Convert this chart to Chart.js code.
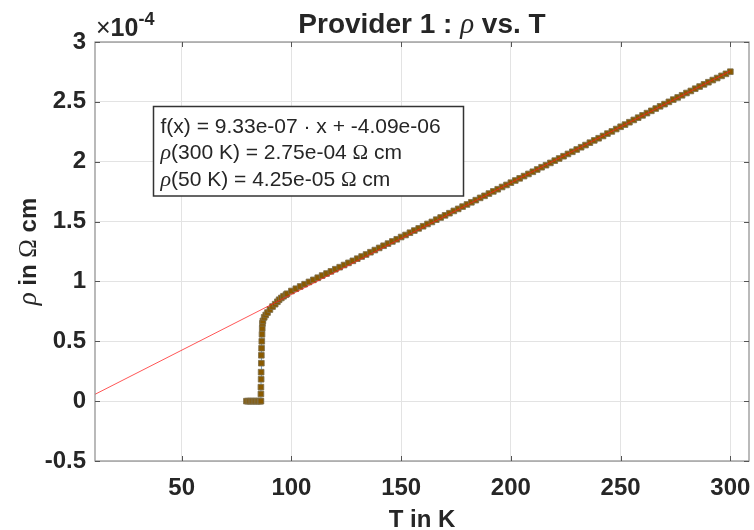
<!DOCTYPE html>
<html>
<head>
<meta charset="utf-8">
<script src="https://cdn.jsdelivr.net/npm/chart.js@4.4.1/dist/chart.umd.min.js"></script>
<style>
    html, body { margin: 0; padding: 0; background: #fff; }
</style>
</head>
<body>
<canvas id="rhoChart" width="754" height="530"></canvas>
<script>
// Measured temperature (K)
const temperature = [
    79.5, 80.2, 80.9, 81.6, 82.3, 83.0, 83.7, 84.4, 85.1, 85.8, 86.1,
    86.1, 86.1, 86.2, 86.2, 86.3, 86.3, 86.4, 86.5, 86.6, 86.7, 86.8,
    87.0, 87.6, 88.3, 89.1, 90.2, 91.4, 92.6, 93.6, 94.4, 95.4, 96.4, 97.5,
    98, 100, 102, 104, 106, 108, 110, 112, 114, 116, 118, 120, 122, 124, 126, 128,
    130, 132, 134, 136, 138, 140, 142, 144, 146, 148, 150, 152, 154, 156, 158,
    160, 162, 164, 166, 168, 170, 172, 174, 176, 178, 180, 182, 184, 186, 188,
    190, 192, 194, 196, 198, 200, 202, 204, 206, 208, 210, 212, 214, 216, 218,
    220, 222, 224, 226, 228, 230, 232, 234, 236, 238, 240, 242, 244, 246, 248,
    250, 252, 254, 256, 258, 260, 262, 264, 266, 268, 270, 272, 274, 276, 278,
    280, 282, 284, 286, 288, 290, 292, 294, 296, 298, 300
];

// Resistivity in units of 1e-4 Ohm cm
const resistivity = [
    0, 0, 0, 0, 0, 0, 0, 0, 0, 0, 0,
    0.06, 0.117, 0.183, 0.242, 0.317, 0.383, 0.442, 0.5, 0.558, 0.608, 0.65,
    0.67, 0.70, 0.72, 0.74, 0.765, 0.79, 0.81, 0.83, 0.847, 0.862, 0.876, 0.889,
    0.897, 0.920, 0.939, 0.958, 0.977, 0.996, 1.013, 1.031, 1.049, 1.066, 1.084, 1.102, 1.119, 1.137, 1.155, 1.172,
    1.190, 1.208, 1.225, 1.244, 1.262, 1.280, 1.298, 1.316, 1.334, 1.352, 1.371, 1.388, 1.407, 1.425, 1.443,
    1.461, 1.480, 1.497, 1.516, 1.534, 1.552, 1.570, 1.589, 1.606, 1.625, 1.643, 1.661, 1.679, 1.698, 1.715,
    1.734, 1.752, 1.770, 1.789, 1.806, 1.825, 1.843, 1.861, 1.880, 1.898, 1.916, 1.935, 1.954, 1.971, 1.990,
    2.009, 2.027, 2.046, 2.065, 2.083, 2.102, 2.121, 2.139, 2.159, 2.178, 2.196, 2.215, 2.235, 2.253, 2.273,
    2.292, 2.310, 2.330, 2.349, 2.368, 2.387, 2.406, 2.425, 2.444, 2.463, 2.481, 2.500, 2.519, 2.537, 2.555,
    2.574, 2.591, 2.610, 2.628, 2.646, 2.664, 2.682, 2.699, 2.717, 2.734, 2.752
];

// Linear fit line end points
const fitT = [10.5, 300];
const fitRho = [0.057, 2.758];

// Axis ticks
const xTicks = [50, 100, 150, 200, 250, 300];
const yTicks = [-0.5, 0, 0.5, 1, 1.5, 2, 2.5, 3];
const yTickLabels = ['-0.5', '0', '0.5', '1', '1.5', '2', '2.5', '3'];

// Text box lines
const fitLine = 'f(x) = 9.33e-07 \u00B7 x + -4.09e-06';
const rho300 = '(300 K) = 2.75e-04 ';
const rho50 = '(50 K) = 4.25e-05 ';

const SANS = '"Liberation Sans", Arial, sans-serif';
const SERIF = '"Liberation Serif", "Times New Roman", serif';
const TEXT = '#262626';

// Draw a sequence of text pieces with different fonts
function drawRuns(ctx, runs, x, y, align) {
    let total = 0;
    runs.forEach(r => { ctx.font = r.font; total += ctx.measureText(r.text).width; });
    let cx = align === 'center' ? x - total / 2 : x;
    ctx.textBaseline = 'alphabetic';
    ctx.textAlign = 'left';
    runs.forEach(r => {
        ctx.font = r.font;
        ctx.fillText(r.text, cx, y + (r.dy || 0));
        cx += ctx.measureText(r.text).width;
    });
}

const decorPlugin = {
    id: 'decor',
    afterDraw(chart) {
        const ctx = chart.ctx;
        const a = chart.chartArea;
        const xs = chart.scales.x;
        const ys = chart.scales.y;
        ctx.save();

        // axes box
        ctx.strokeStyle = '#8c8c8c';
        ctx.lineWidth = 1.2;
        ctx.strokeRect(a.left, a.top, a.right - a.left, a.bottom - a.top);

        // inward ticks on all four sides
        ctx.strokeStyle = '#555';
        ctx.lineWidth = 1;
        ctx.beginPath();
        xTicks.forEach(v => {
            const px = Math.round(xs.getPixelForValue(v)) + 0.5;
            ctx.moveTo(px, a.bottom); ctx.lineTo(px, a.bottom - 5);
            ctx.moveTo(px, a.top); ctx.lineTo(px, a.top + 5);
        });
        yTicks.forEach(v => {
            const py = Math.round(ys.getPixelForValue(v)) + 0.5;
            ctx.moveTo(a.left, py); ctx.lineTo(a.left + 5, py);
            ctx.moveTo(a.right, py); ctx.lineTo(a.right - 5, py);
        });
        ctx.stroke();

        ctx.fillStyle = TEXT;

        // title
        const cx = (a.left + a.right) / 2;
        drawRuns(ctx, [
            { text: 'Provider 1 : ', font: 'bold 28px ' + SANS },
            { text: '\u03C1', font: 'italic 29px ' + SERIF },
            { text: ' vs. T', font: 'bold 28px ' + SANS }
        ], cx, 33, 'center');

        // exponent marker
        drawRuns(ctx, [
            { text: '\u00D7', font: '25px ' + SANS },
            { text: '10', font: 'bold 25px ' + SANS },
            { text: '-4', font: 'bold 18px ' + SANS, dy: -11 }
        ], a.left + 1, 36, 'left');

        // x label
        drawRuns(ctx, [{ text: 'T in K', font: 'bold 24px ' + SANS }], cx, 527, 'center');

        // y label (rotated)
        ctx.save();
        ctx.translate(36, (a.top + a.bottom) / 2);
        ctx.rotate(-Math.PI / 2);
        drawRuns(ctx, [
            { text: '\u03C1', font: 'italic 27px ' + SERIF },
            { text: ' in ', font: 'bold 24px ' + SANS },
            { text: '\u03A9', font: '25px ' + SERIF },
            { text: ' cm', font: 'bold 24px ' + SANS }
        ], 0, 0, 'center');
        ctx.restore();

        // fit text box
        ctx.fillStyle = '#fff';
        ctx.fillRect(153.5, 106.5, 310, 89.5);
        ctx.strokeStyle = '#333';
        ctx.lineWidth = 1.5;
        ctx.strokeRect(153.5, 106.5, 310, 89.5);
        ctx.fillStyle = TEXT;
        drawRuns(ctx, [{ text: fitLine, font: '21px ' + SANS }], 160.5, 132.5, 'left');
        drawRuns(ctx, [
            { text: '\u03C1', font: 'italic 22px ' + SERIF },
            { text: rho300, font: '21px ' + SANS },
            { text: '\u03A9', font: '21px ' + SERIF },
            { text: ' cm', font: '21px ' + SANS }
        ], 160.5, 159, 'left');
        drawRuns(ctx, [
            { text: '\u03C1', font: 'italic 22px ' + SERIF },
            { text: rho50, font: '21px ' + SANS },
            { text: '\u03A9', font: '21px ' + SERIF },
            { text: ' cm', font: '21px ' + SANS }
        ], 160.5, 185.5, 'left');

        ctx.restore();
    }
};

const canvas = document.getElementById('rhoChart');

new Chart(canvas, {
    type: 'scatter',
    data: {
        datasets: [
            {
                // red fit line, drawn on top
                data: fitT.map((t, i) => ({ x: t, y: fitRho[i] })),
                showLine: true,
                borderColor: 'rgba(255, 30, 30, 0.75)',
                borderWidth: 1,
                pointRadius: 0,
                order: 0
            },
            {
                data: temperature.map((t, i) => ({ x: t, y: resistivity[i] })),
                showLine: true,
                borderColor: '#4a86b8',
                borderWidth: 0.8,
                pointStyle: 'rect',
                pointRadius: 4,
                pointBackgroundColor: '#8a5a00',
                pointBorderColor: 'rgba(125, 110, 75, 0.85)',
                pointBorderWidth: 1,
                order: 1
            }
        ]
    },
    options: {
        responsive: false,
        animation: false,
        events: [],
        layout: { padding: { left: 0, right: 4, top: 42, bottom: 0 } },
        plugins: {
            legend: { display: false },
            tooltip: { enabled: false }
        },
        scales: {
            x: {
                type: 'linear',
                min: 10.5,
                max: 308.5,
                afterBuildTicks: s => { s.ticks = xTicks.map(v => ({ value: v })); },
                afterFit: s => { s.height = 69; s.paddingLeft = 0; s.paddingRight = 0; },
                grid: { color: '#e3e3e3', drawTicks: false },
                border: { display: false },
                ticks: {
                    font: { family: SANS, size: 24, weight: 'bold' },
                    color: TEXT,
                    padding: 13,
                    maxRotation: 0,
                    autoSkip: false
                }
            },
            y: {
                type: 'linear',
                min: -0.5,
                max: 3,
                afterBuildTicks: s => { s.ticks = yTicks.map(v => ({ value: v })); },
                afterFit: s => { s.width = 95; s.paddingTop = 0; s.paddingBottom = 0; },
                grid: { color: '#e3e3e3', drawTicks: false },
                border: { display: false },
                ticks: {
                    font: { family: SANS, size: 24, weight: 'bold' },
                    color: TEXT,
                    padding: 9,
                    autoSkip: false,
                    callback: (v, i) => yTickLabels[yTicks.indexOf(v)]
                }
            }
        }
    },
    plugins: [decorPlugin]
});
</script>
</body>
</html>
